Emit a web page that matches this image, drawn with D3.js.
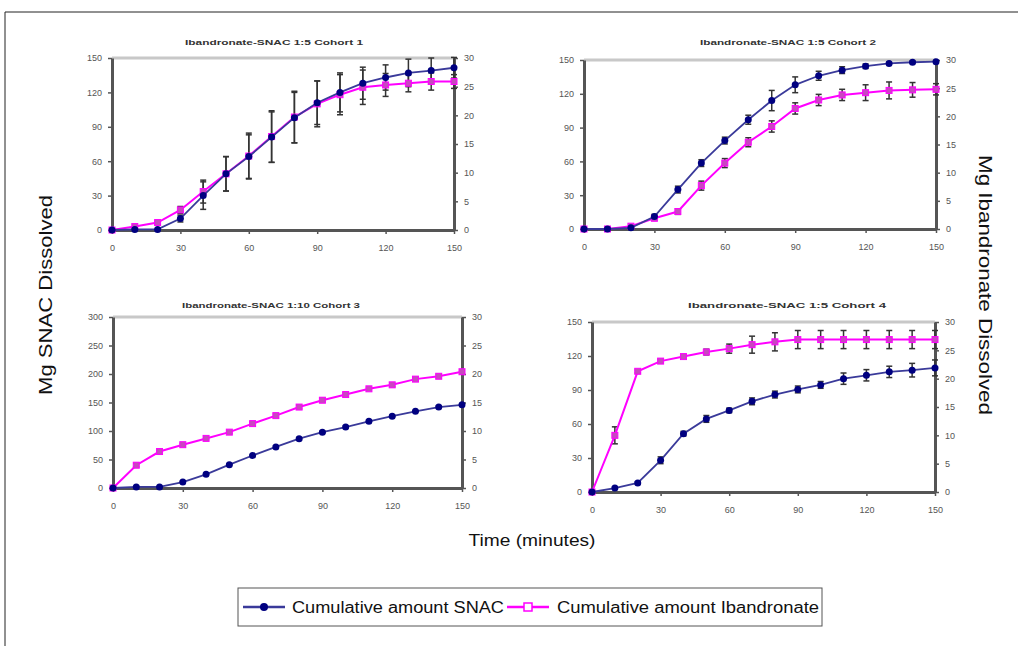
<!DOCTYPE html>
<html>
<head>
<meta charset="utf-8">
<script src="https://cdn.jsdelivr.net/npm/d3@7"></script>
<style>
  body { margin: 0; background: #fff; }
  svg { display: block; font-family: Arial, "Liberation Sans", sans-serif; }
</style>
</head>
<body>
<svg id="chart" width="1018" height="646"></svg>
<script>
// sampling times (minutes), same for every cohort
var times = [0, 10, 20, 30, 40, 50, 60, 70, 80, 90, 100, 110, 120, 130, 140, 150]
var timeTicks = [0, 30, 60, 90, 120, 150]

var titles = [
  "Ibandronate-SNAC 1:5 Cohort 1",
  "Ibandronate-SNAC 1:5 Cohort 2",
  "Ibandronate-SNAC 1:10 Cohort 3",
  "Ibandronate-SNAC 1:5 Cohort 4"
]

// mg SNAC (left axis)
var snac1 = [0, 0.5, 0.5, 10, 30, 49, 64, 81, 98, 111, 120, 128, 133, 137, 139, 141.5]
var snac2 = [0, 0, 1, 11, 35, 58.5, 78.5, 97, 114, 128, 136, 141, 144.5, 147, 148, 148.5]
var snac3 = [0, 1.8, 1.8, 10.5, 24, 41, 57, 72, 86.5, 98, 107, 117, 126, 134.5, 142, 146]
var snac4 = [0, 3.5, 8, 28, 51.5, 64.5, 72, 80, 86, 90.5, 94.5, 100, 103, 106, 107.5, 109.5]

var snacErr1 = [0, 0, 0, 3, 12, 15, 19, 22, 22, 19, 17, 14, 11, 12, 11, 9]
var snacErr2 = [0, 0, 0, 2, 3, 3, 3, 4, 9, 7, 4, 3, 2, 1, 1, 1]
var snacErr3 = [0, 0, 0, 0.5, 1, 1, 1.5, 1.5, 2, 1.5, 1.5, 1.5, 1.5, 1, 1.5, 1.5]
var snacErr4 = [0, 0, 1, 3, 2, 3, 2, 3, 3, 3, 3, 5, 5, 5, 6, 7]

// mg Ibandronate (right axis)
var iban1 = [0, 0.6, 1.3, 3.5, 6.7, 9.8, 12.9, 16.3, 19.7, 22, 23.6, 24.9, 25.3, 25.6, 25.9, 25.9]
var iban2 = [0, 0, 0.5, 1.9, 3.1, 7.7, 11.7, 15.4, 18.2, 21.4, 22.9, 23.8, 24.2, 24.6, 24.7, 24.8]
var iban3 = [0, 4, 6.4, 7.6, 8.7, 9.8, 11.3, 12.7, 14.2, 15.4, 16.4, 17.4, 18.1, 19.1, 19.6, 20.4]
var iban4 = [0, 10, 21.3, 23.1, 23.9, 24.7, 25.3, 26, 26.5, 26.9, 26.9, 26.9, 26.9, 26.9, 26.9, 26.9]

var ibanErr1 = [0, 0, 0.3, 0.6, 2, 3, 4, 4.5, 4.5, 4, 3.5, 3, 2, 1.5, 1.5, 1.2]
var ibanErr2 = [0, 0, 0, 0.3, 0.5, 0.8, 0.8, 0.8, 1, 1, 1, 1, 1.4, 1.5, 1.3, 1]
var ibanErr3 = [0, 0.3, 0.3, 0.2, 0.2, 0.2, 0.3, 0.3, 0.3, 0.3, 0.3, 0.2, 0.3, 0.3, 0.3, 0.3]
var ibanErr4 = [0, 1.5, 0.3, 0.3, 0.3, 0.5, 0.8, 1.5, 1.6, 1.6, 1.6, 1.6, 1.6, 1.6, 1.6, 1.6]

var leftTicks = [
  [0, 30, 60, 90, 120, 150],
  [0, 30, 60, 90, 120, 150],
  [0, 50, 100, 150, 200, 250, 300],
  [0, 30, 60, 90, 120, 150]
]
var rightTicks = [0, 5, 10, 15, 20, 25, 30]

var seriesNames = ["Cumulative amount SNAC", "Cumulative amount Ibandronate"]

var snacData = [snac1, snac2, snac3, snac4]
var snacErrs = [snacErr1, snacErr2, snacErr3, snacErr4]
var ibanData = [iban1, iban2, iban3, iban4]
var ibanErrs = [ibanErr1, ibanErr2, ibanErr3, ibanErr4]

// plot boxes (left, top, right, bottom) of the four panels, plus title anchor
var boxes = [
  {x0: 112, y0: 58, x1: 454, y1: 230, tx: 274, ty: 45},
  {x0: 584, y0: 60, x1: 936, y1: 229, tx: 788, ty: 45},
  {x0: 113, y0: 317, x1: 462, y1: 488, tx: 271, ty: 308},
  {x0: 592, y0: 322, x1: 935, y1: 492, tx: 787, ty: 308}
]
var titleWidths = [178, 176, 178, 198]

var navy = "#000080"
var magenta = "#ff00ff"
var axisGray = "#555"

var svg = d3.select("#chart")

// outer frame
svg.append("path")
  .attr("d", "M5,646 V12 H1018")
  .attr("fill", "none")
  .attr("stroke", "#222")
  .attr("stroke-width", 1)

function drawPanel(i) {
  var b = boxes[i]
  var g = svg.append("g")

  var x = d3.scaleLinear().domain([0, 150]).range([b.x0, b.x1])
  var lt = leftTicks[i]
  var yL = d3.scaleLinear().domain([0, lt[lt.length - 1]]).range([b.y1, b.y0])
  var yR = d3.scaleLinear().domain([0, 30]).range([b.y1, b.y0])

  // light top border of the plot area
  g.append("line")
    .attr("x1", b.x0).attr("x2", b.x1)
    .attr("y1", b.y0).attr("y2", b.y0)
    .attr("stroke", "#c8c8c8").attr("stroke-width", 3)

  g.append("text")
    .attr("x", b.tx)
    .attr("y", b.ty)
    .attr("text-anchor", "middle")
    .attr("font-size", 8)
    .attr("font-weight", "bold")
    .attr("fill", "#333")
    .attr("textLength", titleWidths[i])
    .attr("lengthAdjust", "spacingAndGlyphs")
    .text(titles[i])

  var axL = g.append("g").attr("transform", "translate(" + b.x0 + ",0)")
    .call(d3.axisLeft(yL).tickValues(lt).tickSize(4).tickSizeOuter(0).tickPadding(6))
  var axR = g.append("g").attr("transform", "translate(" + b.x1 + ",0)")
    .call(d3.axisRight(yR).tickValues(rightTicks).tickSize(4).tickSizeOuter(0).tickPadding(6))
  var axB = g.append("g").attr("transform", "translate(0," + b.y1 + ")")
    .call(d3.axisBottom(x).tickValues(timeTicks).tickSize(4).tickSizeOuter(0))

  ;[axL, axR, axB].forEach(function(ax) {
    ax.select(".domain").attr("stroke", axisGray).attr("stroke-width", 3)
    ax.selectAll(".tick line").attr("stroke", axisGray).attr("stroke-width", 1.5)
    ax.selectAll(".tick text").attr("font-size", 9).attr("fill", "#555")
      .attr("font-family", "Arial, 'Liberation Sans', sans-serif")
  })
  axB.selectAll(".tick text").attr("dy", "1.5em")

  var snac = times.map(function(t, k) { return {t: t, v: snacData[i][k], e: snacErrs[i][k]} })
  var iban = times.map(function(t, k) { return {t: t, v: ibanData[i][k], e: ibanErrs[i][k]} })

  function errorBars(data, y) {
    var eb = g.append("g").attr("stroke", "#333").attr("stroke-width", 1.5)
    data.filter(function(d) { return d.e > 0 }).forEach(function(d) {
      var cx = x(d.t), top = y(d.v + d.e), bot = y(d.v - d.e)
      eb.append("line").attr("x1", cx).attr("x2", cx).attr("y1", top).attr("y2", bot)
      eb.append("line").attr("x1", cx - 3).attr("x2", cx + 3).attr("y1", top).attr("y2", top)
      eb.append("line").attr("x1", cx - 3).attr("x2", cx + 3).attr("y1", bot).attr("y2", bot)
    })
  }
  errorBars(snac, yL)
  errorBars(iban, yR)

  g.append("path").datum(iban)
    .attr("fill", "none").attr("stroke", magenta).attr("stroke-width", 2)
    .attr("d", d3.line().x(function(d) { return x(d.t) }).y(function(d) { return yR(d.v) }))
  g.selectAll(".ib").data(iban).enter().append("rect")
    .attr("x", function(d) { return x(d.t) - 3 })
    .attr("y", function(d) { return yR(d.v) - 3 })
    .attr("width", 6).attr("height", 6)
    .attr("fill", "#c848c0").attr("stroke", magenta).attr("stroke-width", 1)

  g.append("path").datum(snac)
    .attr("fill", "none").attr("stroke", "#3a3a9a").attr("stroke-width", 1.8)
    .attr("d", d3.line().x(function(d) { return x(d.t) }).y(function(d) { return yL(d.v) }))
  g.selectAll(".sn").data(snac).enter().append("circle")
    .attr("cx", function(d) { return x(d.t) })
    .attr("cy", function(d) { return yL(d.v) })
    .attr("r", 3.5)
    .attr("fill", navy)
}

for (var i = 0; i < 4; i++) drawPanel(i)

// shared axis titles
svg.append("text")
  .attr("transform", "translate(52,295) rotate(-90)")
  .attr("text-anchor", "middle")
  .attr("font-size", 19)
  .attr("fill", "#111")
  .attr("textLength", 200)
  .attr("lengthAdjust", "spacingAndGlyphs")
  .text("Mg SNAC Dissolved")

svg.append("text")
  .attr("transform", "translate(979,285) rotate(90)")
  .attr("text-anchor", "middle")
  .attr("font-size", 19)
  .attr("fill", "#111")
  .attr("textLength", 260)
  .attr("lengthAdjust", "spacingAndGlyphs")
  .text("Mg Ibandronate Dissolved")

svg.append("text")
  .attr("x", 532).attr("y", 546)
  .attr("text-anchor", "middle")
  .attr("font-size", 16)
  .attr("fill", "#111")
  .attr("textLength", 127)
  .attr("lengthAdjust", "spacingAndGlyphs")
  .text("Time (minutes)")

// legend
var lg = svg.append("g")
lg.append("rect")
  .attr("x", 238).attr("y", 588).attr("width", 584).attr("height", 38)
  .attr("fill", "#fff").attr("stroke", "#555").attr("stroke-width", 1)

lg.append("line").attr("x1", 243).attr("x2", 285).attr("y1", 607).attr("y2", 607)
  .attr("stroke", "#3a3a9a").attr("stroke-width", 2.5)
lg.append("circle").attr("cx", 264).attr("cy", 607).attr("r", 4).attr("fill", navy)
lg.append("text").attr("x", 292).attr("y", 613).attr("font-size", 16).attr("fill", "#111")
  .attr("textLength", 212).attr("lengthAdjust", "spacingAndGlyphs")
  .text(seriesNames[0])

lg.append("line").attr("x1", 507).attr("x2", 549).attr("y1", 607).attr("y2", 607)
  .attr("stroke", magenta).attr("stroke-width", 2.5)
lg.append("rect").attr("x", 524).attr("y", 603).attr("width", 8).attr("height", 8)
  .attr("fill", "#fff").attr("stroke", magenta).attr("stroke-width", 1.5)
lg.append("text").attr("x", 557).attr("y", 613).attr("font-size", 16).attr("fill", "#111")
  .attr("textLength", 262).attr("lengthAdjust", "spacingAndGlyphs")
  .text(seriesNames[1])
</script>
</body>
</html>
